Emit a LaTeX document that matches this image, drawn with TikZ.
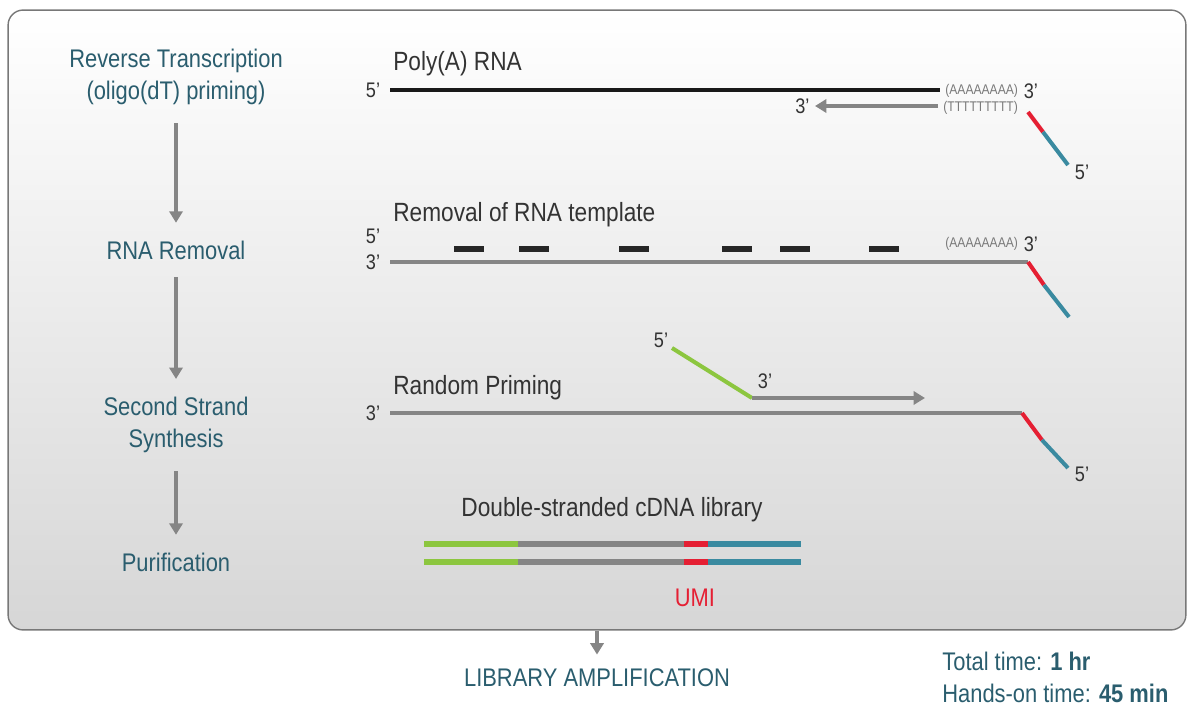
\documentclass[tikz,border=0pt]{standalone}
\usepackage{fontspec}
\setmainfont[FakeStretch=0.86]{Liberation Sans}
\usetikzlibrary{arrows.meta, positioning}
\definecolor{stepcol}{HTML}{2A5D6E}
\definecolor{txtcol}{HTML}{333333}
\definecolor{tailcol}{HTML}{7A7A7A}
\definecolor{strcol}{HTML}{858585}
\definecolor{umicol}{HTML}{E51F33}
\definecolor{bccol}{HTML}{3A8AA0}
\definecolor{rpcol}{HTML}{8CC63F}

\begin{document}
\begin{tikzpicture}[x=0.02cm, y=-0.02cm, >={Triangle[length=6.5pt, width=7.5pt]},
  panel/.style={draw=strcol!90!black, line width=0.8pt, rounded corners=0.3cm,
    top color=white, bottom color=black!16, minimum width=23.56cm, minimum height=12.4cm, inner sep=0pt},
  steplab/.style={stepcol, align=center, inner sep=0pt, font=\fontsize{14.5}{18.5}\selectfont},
  steparrow/.style={->, strcol, line width=2.3pt, shorten <=10pt, shorten >=10pt},
  caplab/.style={txtcol, inner sep=0pt, anchor=west, font=\fontsize{15}{18}\selectfont},
  endlab/.style={txtcol, inner sep=0pt, font=\fontsize{12}{14}\selectfont},
  polylab/.style={tailcol, inner sep=0pt, anchor=west, font=\fontsize{8}{9.5}\selectfont},
  rna/.style={black!90, line width=2.8pt},
  strand/.style={strcol, line width=2.3pt},
  frag/.style={black!85, line width=3pt},
  ds/.style={line width=3.4pt}]
\useasboundingbox (0,0) rectangle (1200,713);
\node[panel] (panel) at (597,320) {};

% workflow steps
\node[steplab] (rt) at (176,77) {Reverse Transcription\\(oligo(dT) priming)};
\node[steplab] (rr) at (176,250) {RNA Removal};
\node[steplab] (ss) at (176,425) {Second Strand\\Synthesis};
\node[steplab] (pu) at (176,562) {Purification};
\draw[steparrow] (rt) -- (rr);
\draw[steparrow] (rr) -- (ss);
\draw[steparrow] (ss) -- (pu);

% reverse transcription
\node[caplab] (polya) at (393,64) {Poly(A) RNA};
\node[endlab] (rt5) at (373,90) {5'};
\coordinate (rnaL) at (390,90);
\coordinate (rnaR) at (940,90);
\draw[rna] (rnaL) -- (rnaR);
\node[polylab] (aa1) at (945,91) {(AAAAAAAA)};
\node[endlab, right=3pt of aa1] (rt3) {3'};
\coordinate (odtR) at (938,106);
\coordinate (odtL) at (815,106);
\draw[strand, ->] (odtR) -- (odtL);
\node[endlab, left=3pt of odtL] (odt3) {3'};
\node[polylab] (tt1) at (943,108) {(TTTTTTTTT)};
\coordinate (t1a) at (1028,112);
\coordinate (t1b) at (1043,132);
\coordinate (t1c) at (1068,165);
\draw[strand, umicol] (t1a) -- (t1b);
\draw[strand, bccol] (t1b) -- (t1c);
\node[endlab] (t15) at (1082,172) {5'};

% removal of RNA template
\node[caplab] (rem) at (393,215) {Removal of RNA template};
\node[endlab] (rr5) at (373,236) {5'};
\node[endlab] (rr3) at (373,262) {3'};
\coordinate (cd1L) at (390,262);
\coordinate (cd1R) at (1028,262);
\draw[strand] (cd1L) -- (cd1R);
\foreach \xa in {454,519,619,722,780,869}
  \draw[frag] (\xa,249) -- ++(30,0);
\node[polylab] (aa2) at (945,244) {(AAAAAAAA)};
\node[endlab, right=3pt of aa2] (rr3b) {3'};
\coordinate (t2b) at (1044,285);
\coordinate (t2c) at (1069,317);
\draw[strand, umicol] (cd1R) -- (t2b);
\draw[strand, bccol] (t2b) -- (t2c);

% second strand synthesis
\node[caplab] (rnd) at (393,388) {Random Priming};
\node[endlab] (ss3) at (373,413) {3'};
\coordinate (cd2L) at (390,413);
\coordinate (cd2R) at (1022,413);
\draw[strand] (cd2L) -- (cd2R);
\coordinate (rpA) at (672,348);
\coordinate (rpB) at (752,398);
\coordinate (rpC) at (925,398);
\draw[strand, rpcol] (rpA) -- (rpB);
\draw[strand, ->] (rpB) -- (rpC);
\node[endlab] (rp5) at (661,340) {5'};
\node[endlab] (rp3) at (765,381) {3'};
\coordinate (t3b) at (1042,440);
\coordinate (t3c) at (1068,468);
\draw[strand, umicol] (cd2R) -- (t3b);
\draw[strand, bccol] (t3b) -- (t3c);
\node[endlab] (t35) at (1082,474) {5'};

% double-stranded library
\node[caplab, anchor=center] (dsl) at (612,510) {Double-stranded cDNA library};
\foreach \yl in {544,562} {
  \draw[ds, rpcol] (424,\yl) -- (518,\yl);
  \draw[ds, strcol] (518,\yl) -- (684,\yl);
  \draw[ds, umicol] (684,\yl) -- (708,\yl);
  \draw[ds, bccol] (708,\yl) -- (801,\yl);
}
\node[umicol, inner sep=0pt, font=\fontsize{14.5}{17}\selectfont] (umi) at (695,598) {UMI};

% after the panel
\node[steplab] (amp) at (597,678) {LIBRARY AMPLIFICATION};
\draw[steparrow, shorten <=0pt, shorten >=8pt] (panel) -- (amp);
\node[steplab, anchor=west] (tot) at (942,661) {Total time: \textbf{1 hr}};
\node[steplab, anchor=west] (hon) at (942,693) {Hands-on time: \textbf{45 min}};
\end{tikzpicture}
\end{document}
